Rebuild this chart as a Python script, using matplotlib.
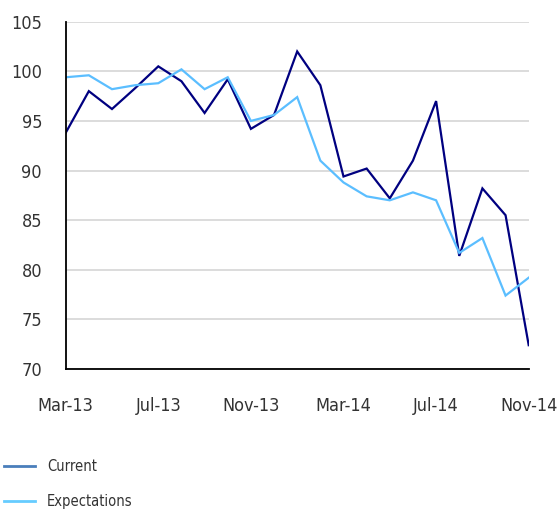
import matplotlib
matplotlib.use("Agg")
import matplotlib.pyplot as plt
from matplotlib.lines import Line2D

# monthly survey readings, Mar-13 .. Nov-14
months = ["Mar-13", "Apr-13", "May-13", "Jun-13", "Jul-13", "Aug-13", "Sep-13",
          "Oct-13", "Nov-13", "Dec-13", "Jan-14", "Feb-14", "Mar-14", "Apr-14",
          "May-14", "Jun-14", "Jul-14", "Aug-14", "Sep-14", "Oct-14", "Nov-14"]
current = [93.8, 98.0, 96.2, 98.3, 100.5, 99.0, 95.8, 99.2, 94.2, 95.6, 102.0,
           98.6, 89.4, 90.2, 87.2, 91.0, 97.0, 81.4, 88.2, 85.5, 72.4]
expectations = [99.4, 99.6, 98.2, 98.6, 98.8, 100.2, 98.2, 99.4, 95.0, 95.6, 97.4,
                91.0, 88.8, 87.4, 87.0, 87.8, 87.0, 81.7, 83.2, 77.4, 79.2]
tick_every = 4

plt.rcParams['font.family'] = ['Liberation Sans Narrow', 'DejaVu Sans']
plt.rcParams['font.stretch'] = 'condensed'

fig = plt.figure(figsize=(5.59, 5.13), dpi=100)
ax = fig.add_axes([0.1175, 0.2807, 0.8283, 0.677])

x = list(range(len(months)))
ax.plot(x, current, color="#000080", lw=1.6, solid_joinstyle="miter")
ax.plot(x, expectations, color="#5BBEFF", lw=1.6, solid_joinstyle="miter")

ax.set_xlim(0, len(months) - 1)
ax.set_ylim(70, 105)
ax.set_yticks(range(70, 106, 5))
ax.set_xticks(x[::tick_every])
ax.set_xticklabels(months[::tick_every])
ax.tick_params(length=0, labelsize=13, colors="#333333")
ax.tick_params(axis="x", pad=20)
ax.tick_params(axis="y", pad=17)

ax.grid(axis="y", color="#D9D9D9", lw=1.3)
ax.set_axisbelow(True)
for side in ("top", "right"):
    ax.spines[side].set_visible(False)
for side in ("left", "bottom"):
    ax.spines[side].set_color("black")
    ax.spines[side].set_linewidth(1.3)

handles = [Line2D([], [], color="#4A7EBB", lw=2),
           Line2D([], [], color="#66CCFF", lw=2)]
fig.legend(handles, ["Current", "Expectations"], loc="upper left",
           bbox_to_anchor=(-0.016, 0.131), frameon=False, fontsize=10.5,
           handlelength=2.1, handletextpad=0.85, labelspacing=1.35,
           labelcolor="#333333")

fig.savefig("out.png", dpi=100)
